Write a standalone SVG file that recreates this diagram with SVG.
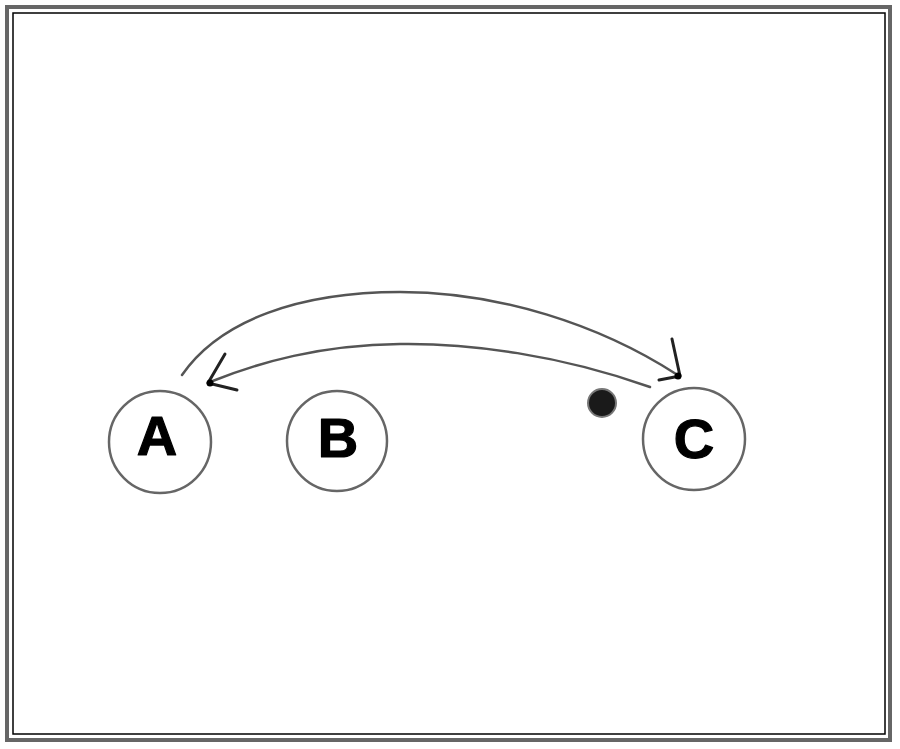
<svg xmlns="http://www.w3.org/2000/svg" width="900" height="749" viewBox="0 0 900 749">
<style>
.node circle{fill:none;stroke:#666;stroke-width:2.5}
.node text{font-family:"Liberation Sans",Arial,sans-serif;font-weight:bold;font-size:56px;fill:#000;stroke:#000;stroke-width:1.2;stroke-linejoin:round;text-anchor:middle}
.edge{fill:none;stroke:#555;stroke-width:2.5;stroke-linecap:round}
.head{fill:none;stroke:#222;stroke-width:3;stroke-linecap:round;stroke-linejoin:round}
.tip{fill:#000}
</style>
<rect x="0" y="0" width="900" height="749" fill="#fff"/>
<g id="frame">
<rect x="7" y="7" width="883" height="733" fill="none" stroke="#666" stroke-width="4"/>
<rect x="13" y="13" width="872" height="721" fill="none" stroke="#000" stroke-width="1.5"/>
</g>
<g id="connectors">
<path class="edge" d="M182,375 C220,320 300,292 400,292 C500,292 600,325 676,374"/>
<path class="head" d="M672,339 L680,376 L659,380"/>
<circle class="tip" cx="678" cy="376" r="3.5"/>
<path class="edge" d="M650,387 C560,355 470,343 400,344 C320,345 260,362 210,382"/>
<path class="head" d="M225,354 L208,383 L237,390"/>
<circle class="tip" cx="210" cy="383" r="3.5"/>
</g>
<g id="A" class="node">
<circle cx="160" cy="442" r="51"/>
<text x="157" y="455">A</text>
</g>
<g id="B" class="node">
<circle cx="337" cy="441" r="50"/>
<text x="338" y="457">B</text>
</g>
<g id="C" class="node">
<circle cx="694" cy="439" r="51"/>
<text x="694" y="458">C</text>
</g>
<g id="dot">
<circle cx="602" cy="403" r="14" fill="#1a1a1a" stroke="#777" stroke-width="2"/>
</g>
</svg>
